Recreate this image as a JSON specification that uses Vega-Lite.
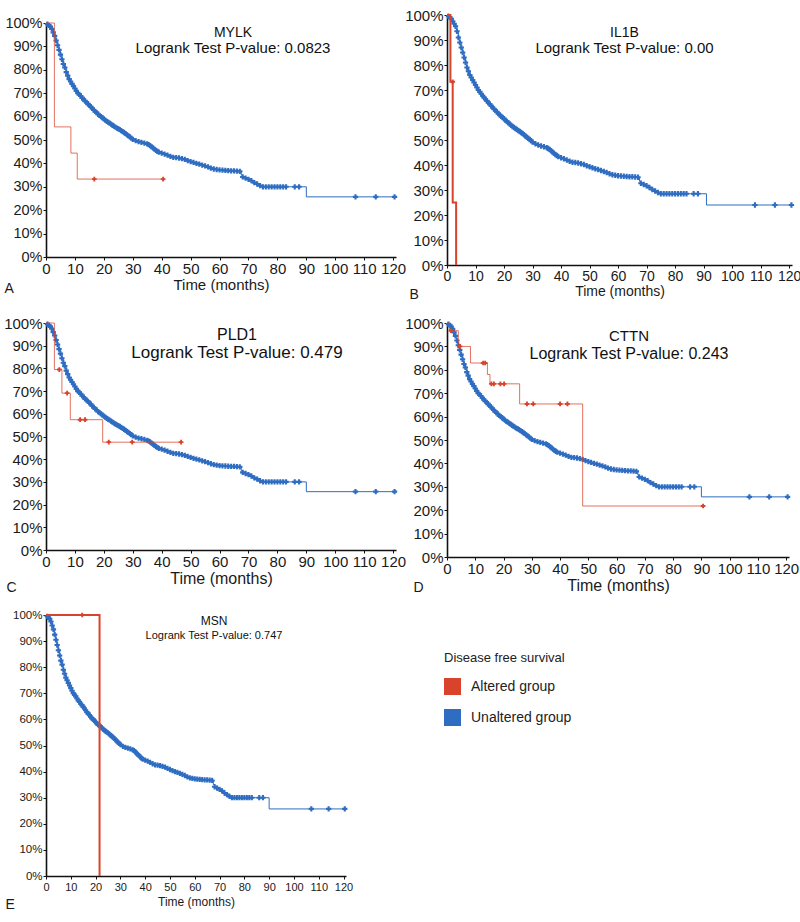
{
  "$schema": "https://vega.github.io/schema/vega-lite/v6.json",
  "background": "white",
  "padding": {"left": 3, "top": 8, "right": 0, "bottom": 0},
  "columns": 2,
  "bounds": "flush",
  "spacing": {"row": 58, "column": 51},
  "center": {"row": true, "column": false},
  "datasets": {
    "unaltered": [
      {"t":0,"s":1,"c":0,"g":"Unaltered group"},{"t":0.5,"s":0.995,"c":1,"g":"Unaltered group"},{"t":1,"s":0.99,"c":1,"g":"Unaltered group"},{"t":1.5,"s":0.985,"c":1,"g":"Unaltered group"},{"t":2,"s":0.975,"c":1,"g":"Unaltered group"},{"t":2.5,"s":0.96,"c":1,"g":"Unaltered group"},{"t":3,"s":0.945,"c":1,"g":"Unaltered group"},{"t":3.5,"s":0.925,"c":1,"g":"Unaltered group"},{"t":4,"s":0.905,"c":1,"g":"Unaltered group"},{"t":4.5,"s":0.885,"c":1,"g":"Unaltered group"},{"t":5,"s":0.865,"c":1,"g":"Unaltered group"},{"t":5.5,"s":0.845,"c":1,"g":"Unaltered group"},{"t":6,"s":0.825,"c":1,"g":"Unaltered group"},{"t":6.5,"s":0.81,"c":1,"g":"Unaltered group"},{"t":7,"s":0.79,"c":1,"g":"Unaltered group"},{"t":7.5,"s":0.775,"c":1,"g":"Unaltered group"},{"t":8,"s":0.76,"c":1,"g":"Unaltered group"},{"t":8.5,"s":0.75,"c":1,"g":"Unaltered group"},{"t":9,"s":0.74,"c":1,"g":"Unaltered group"},{"t":9.5,"s":0.73,"c":1,"g":"Unaltered group"},{"t":10,"s":0.72,"c":1,"g":"Unaltered group"},{"t":10.5,"s":0.71,"c":1,"g":"Unaltered group"},{"t":11,"s":0.7,"c":1,"g":"Unaltered group"},{"t":11.5,"s":0.695,"c":1,"g":"Unaltered group"},{"t":12,"s":0.688,"c":1,"g":"Unaltered group"},{"t":12.5,"s":0.68,"c":1,"g":"Unaltered group"},{"t":13,"s":0.673,"c":1,"g":"Unaltered group"},{"t":13.5,"s":0.667,"c":1,"g":"Unaltered group"},{"t":14,"s":0.66,"c":1,"g":"Unaltered group"},{"t":14.5,"s":0.655,"c":1,"g":"Unaltered group"},{"t":15,"s":0.648,"c":1,"g":"Unaltered group"},{"t":15.5,"s":0.642,"c":1,"g":"Unaltered group"},{"t":16,"s":0.635,"c":1,"g":"Unaltered group"},{"t":16.5,"s":0.628,"c":1,"g":"Unaltered group"},{"t":17,"s":0.622,"c":1,"g":"Unaltered group"},{"t":17.5,"s":0.617,"c":1,"g":"Unaltered group"},{"t":18,"s":0.61,"c":1,"g":"Unaltered group"},{"t":18.5,"s":0.605,"c":1,"g":"Unaltered group"},{"t":19,"s":0.6,"c":1,"g":"Unaltered group"},{"t":19.5,"s":0.595,"c":1,"g":"Unaltered group"},{"t":20,"s":0.59,"c":1,"g":"Unaltered group"},{"t":20.5,"s":0.585,"c":1,"g":"Unaltered group"},{"t":21,"s":0.58,"c":1,"g":"Unaltered group"},{"t":21.5,"s":0.576,"c":1,"g":"Unaltered group"},{"t":22,"s":0.572,"c":1,"g":"Unaltered group"},{"t":22.5,"s":0.568,"c":1,"g":"Unaltered group"},{"t":23,"s":0.563,"c":1,"g":"Unaltered group"},{"t":23.5,"s":0.559,"c":1,"g":"Unaltered group"},{"t":24,"s":0.555,"c":1,"g":"Unaltered group"},{"t":24.5,"s":0.551,"c":1,"g":"Unaltered group"},{"t":25,"s":0.548,"c":1,"g":"Unaltered group"},{"t":25.5,"s":0.544,"c":1,"g":"Unaltered group"},{"t":26,"s":0.54,"c":1,"g":"Unaltered group"},{"t":26.5,"s":0.536,"c":1,"g":"Unaltered group"},{"t":27,"s":0.532,"c":1,"g":"Unaltered group"},{"t":27.5,"s":0.527,"c":1,"g":"Unaltered group"},{"t":28,"s":0.522,"c":1,"g":"Unaltered group"},{"t":28.5,"s":0.518,"c":1,"g":"Unaltered group"},{"t":29,"s":0.513,"c":1,"g":"Unaltered group"},{"t":29.5,"s":0.508,"c":1,"g":"Unaltered group"},{"t":30,"s":0.503,"c":1,"g":"Unaltered group"},{"t":31,"s":0.497,"c":1,"g":"Unaltered group"},{"t":32,"s":0.493,"c":1,"g":"Unaltered group"},{"t":33,"s":0.49,"c":1,"g":"Unaltered group"},{"t":34,"s":0.487,"c":1,"g":"Unaltered group"},{"t":35,"s":0.483,"c":1,"g":"Unaltered group"},{"t":35.5,"s":0.48,"c":1,"g":"Unaltered group"},{"t":36,"s":0.476,"c":1,"g":"Unaltered group"},{"t":36.5,"s":0.471,"c":1,"g":"Unaltered group"},{"t":37,"s":0.466,"c":1,"g":"Unaltered group"},{"t":37.5,"s":0.461,"c":1,"g":"Unaltered group"},{"t":38,"s":0.456,"c":1,"g":"Unaltered group"},{"t":38.5,"s":0.452,"c":1,"g":"Unaltered group"},{"t":39,"s":0.448,"c":1,"g":"Unaltered group"},{"t":40,"s":0.444,"c":1,"g":"Unaltered group"},{"t":41,"s":0.44,"c":1,"g":"Unaltered group"},{"t":42,"s":0.435,"c":1,"g":"Unaltered group"},{"t":43,"s":0.43,"c":1,"g":"Unaltered group"},{"t":44,"s":0.426,"c":1,"g":"Unaltered group"},{"t":45,"s":0.425,"c":1,"g":"Unaltered group"},{"t":46,"s":0.423,"c":1,"g":"Unaltered group"},{"t":47,"s":0.42,"c":1,"g":"Unaltered group"},{"t":48,"s":0.417,"c":1,"g":"Unaltered group"},{"t":49,"s":0.412,"c":1,"g":"Unaltered group"},{"t":50,"s":0.408,"c":1,"g":"Unaltered group"},{"t":51,"s":0.404,"c":1,"g":"Unaltered group"},{"t":52,"s":0.4,"c":1,"g":"Unaltered group"},{"t":53,"s":0.397,"c":1,"g":"Unaltered group"},{"t":54,"s":0.393,"c":1,"g":"Unaltered group"},{"t":55,"s":0.389,"c":1,"g":"Unaltered group"},{"t":56,"s":0.385,"c":1,"g":"Unaltered group"},{"t":57,"s":0.38,"c":1,"g":"Unaltered group"},{"t":58,"s":0.376,"c":1,"g":"Unaltered group"},{"t":59,"s":0.374,"c":1,"g":"Unaltered group"},{"t":60,"s":0.372,"c":1,"g":"Unaltered group"},{"t":61,"s":0.371,"c":1,"g":"Unaltered group"},{"t":62,"s":0.37,"c":1,"g":"Unaltered group"},{"t":63,"s":0.369,"c":1,"g":"Unaltered group"},{"t":64,"s":0.368,"c":1,"g":"Unaltered group"},{"t":65,"s":0.368,"c":1,"g":"Unaltered group"},{"t":66,"s":0.367,"c":1,"g":"Unaltered group"},{"t":67,"s":0.366,"c":1,"g":"Unaltered group"},{"t":67.5,"s":0.35,"c":0,"g":"Unaltered group"},{"t":68,"s":0.342,"c":1,"g":"Unaltered group"},{"t":69,"s":0.337,"c":1,"g":"Unaltered group"},{"t":70,"s":0.332,"c":1,"g":"Unaltered group"},{"t":71,"s":0.326,"c":1,"g":"Unaltered group"},{"t":72,"s":0.318,"c":1,"g":"Unaltered group"},{"t":73,"s":0.312,"c":1,"g":"Unaltered group"},{"t":74,"s":0.305,"c":1,"g":"Unaltered group"},{"t":75,"s":0.3,"c":1,"g":"Unaltered group"},{"t":76,"s":0.3,"c":1,"g":"Unaltered group"},{"t":77,"s":0.3,"c":1,"g":"Unaltered group"},{"t":78,"s":0.3,"c":1,"g":"Unaltered group"},{"t":79,"s":0.3,"c":1,"g":"Unaltered group"},{"t":80,"s":0.3,"c":1,"g":"Unaltered group"},{"t":81,"s":0.3,"c":1,"g":"Unaltered group"},{"t":82,"s":0.3,"c":1,"g":"Unaltered group"},{"t":83,"s":0.3,"c":1,"g":"Unaltered group"},{"t":86,"s":0.3,"c":1,"g":"Unaltered group"},{"t":87.5,"s":0.3,"c":1,"g":"Unaltered group"},{"t":90,"s":0.257,"c":0,"g":"Unaltered group"},{"t":107,"s":0.257,"c":1,"g":"Unaltered group"},{"t":114,"s":0.257,"c":1,"g":"Unaltered group"},{"t":120.5,"s":0.257,"c":1,"g":"Unaltered group"}
    ],
    "unalteredB": [
      {"t":0,"s":1,"c":0,"g":"Unaltered group"},{"t":0.5,"s":0.995,"c":1,"g":"Unaltered group"},{"t":1,"s":0.99,"c":1,"g":"Unaltered group"},{"t":1.5,"s":0.985,"c":1,"g":"Unaltered group"},{"t":2,"s":0.975,"c":1,"g":"Unaltered group"},{"t":2.5,"s":0.965,"c":1,"g":"Unaltered group"},{"t":3,"s":0.955,"c":1,"g":"Unaltered group"},{"t":3.5,"s":0.935,"c":1,"g":"Unaltered group"},{"t":4,"s":0.91,"c":1,"g":"Unaltered group"},{"t":4.5,"s":0.89,"c":1,"g":"Unaltered group"},{"t":5,"s":0.87,"c":1,"g":"Unaltered group"},{"t":5.5,"s":0.85,"c":1,"g":"Unaltered group"},{"t":6,"s":0.83,"c":1,"g":"Unaltered group"},{"t":6.5,"s":0.81,"c":1,"g":"Unaltered group"},{"t":7,"s":0.79,"c":1,"g":"Unaltered group"},{"t":7.5,"s":0.775,"c":1,"g":"Unaltered group"},{"t":8,"s":0.76,"c":1,"g":"Unaltered group"},{"t":8.5,"s":0.75,"c":1,"g":"Unaltered group"},{"t":9,"s":0.74,"c":1,"g":"Unaltered group"},{"t":9.5,"s":0.73,"c":1,"g":"Unaltered group"},{"t":10,"s":0.72,"c":1,"g":"Unaltered group"},{"t":10.5,"s":0.71,"c":1,"g":"Unaltered group"},{"t":11,"s":0.7,"c":1,"g":"Unaltered group"},{"t":11.5,"s":0.693,"c":1,"g":"Unaltered group"},{"t":12,"s":0.685,"c":1,"g":"Unaltered group"},{"t":12.5,"s":0.677,"c":1,"g":"Unaltered group"},{"t":13,"s":0.67,"c":1,"g":"Unaltered group"},{"t":13.5,"s":0.663,"c":1,"g":"Unaltered group"},{"t":14,"s":0.656,"c":1,"g":"Unaltered group"},{"t":14.5,"s":0.65,"c":1,"g":"Unaltered group"},{"t":15,"s":0.643,"c":1,"g":"Unaltered group"},{"t":15.5,"s":0.637,"c":1,"g":"Unaltered group"},{"t":16,"s":0.63,"c":1,"g":"Unaltered group"},{"t":16.5,"s":0.624,"c":1,"g":"Unaltered group"},{"t":17,"s":0.618,"c":1,"g":"Unaltered group"},{"t":17.5,"s":0.612,"c":1,"g":"Unaltered group"},{"t":18,"s":0.606,"c":1,"g":"Unaltered group"},{"t":18.5,"s":0.6,"c":1,"g":"Unaltered group"},{"t":19,"s":0.595,"c":1,"g":"Unaltered group"},{"t":19.5,"s":0.59,"c":1,"g":"Unaltered group"},{"t":20,"s":0.585,"c":1,"g":"Unaltered group"},{"t":20.5,"s":0.579,"c":1,"g":"Unaltered group"},{"t":21,"s":0.574,"c":1,"g":"Unaltered group"},{"t":21.5,"s":0.569,"c":1,"g":"Unaltered group"},{"t":22,"s":0.564,"c":1,"g":"Unaltered group"},{"t":22.5,"s":0.559,"c":1,"g":"Unaltered group"},{"t":23,"s":0.554,"c":1,"g":"Unaltered group"},{"t":23.5,"s":0.55,"c":1,"g":"Unaltered group"},{"t":24,"s":0.546,"c":1,"g":"Unaltered group"},{"t":24.5,"s":0.542,"c":1,"g":"Unaltered group"},{"t":25,"s":0.538,"c":1,"g":"Unaltered group"},{"t":25.5,"s":0.534,"c":1,"g":"Unaltered group"},{"t":26,"s":0.53,"c":1,"g":"Unaltered group"},{"t":26.5,"s":0.526,"c":1,"g":"Unaltered group"},{"t":27,"s":0.521,"c":1,"g":"Unaltered group"},{"t":27.5,"s":0.516,"c":1,"g":"Unaltered group"},{"t":28,"s":0.511,"c":1,"g":"Unaltered group"},{"t":28.5,"s":0.507,"c":1,"g":"Unaltered group"},{"t":29,"s":0.502,"c":1,"g":"Unaltered group"},{"t":29.5,"s":0.497,"c":1,"g":"Unaltered group"},{"t":30,"s":0.492,"c":1,"g":"Unaltered group"},{"t":31,"s":0.485,"c":1,"g":"Unaltered group"},{"t":32,"s":0.48,"c":1,"g":"Unaltered group"},{"t":33,"s":0.476,"c":1,"g":"Unaltered group"},{"t":34,"s":0.473,"c":1,"g":"Unaltered group"},{"t":35,"s":0.469,"c":1,"g":"Unaltered group"},{"t":35.5,"s":0.466,"c":1,"g":"Unaltered group"},{"t":36,"s":0.462,"c":1,"g":"Unaltered group"},{"t":36.5,"s":0.457,"c":1,"g":"Unaltered group"},{"t":37,"s":0.452,"c":1,"g":"Unaltered group"},{"t":37.5,"s":0.447,"c":1,"g":"Unaltered group"},{"t":38,"s":0.442,"c":1,"g":"Unaltered group"},{"t":38.5,"s":0.438,"c":1,"g":"Unaltered group"},{"t":39,"s":0.434,"c":1,"g":"Unaltered group"},{"t":40,"s":0.429,"c":1,"g":"Unaltered group"},{"t":41,"s":0.425,"c":1,"g":"Unaltered group"},{"t":42,"s":0.42,"c":1,"g":"Unaltered group"},{"t":43,"s":0.415,"c":1,"g":"Unaltered group"},{"t":44,"s":0.411,"c":1,"g":"Unaltered group"},{"t":45,"s":0.41,"c":1,"g":"Unaltered group"},{"t":46,"s":0.408,"c":1,"g":"Unaltered group"},{"t":47,"s":0.405,"c":1,"g":"Unaltered group"},{"t":48,"s":0.402,"c":1,"g":"Unaltered group"},{"t":49,"s":0.397,"c":1,"g":"Unaltered group"},{"t":50,"s":0.393,"c":1,"g":"Unaltered group"},{"t":51,"s":0.389,"c":1,"g":"Unaltered group"},{"t":52,"s":0.385,"c":1,"g":"Unaltered group"},{"t":53,"s":0.382,"c":1,"g":"Unaltered group"},{"t":54,"s":0.378,"c":1,"g":"Unaltered group"},{"t":55,"s":0.374,"c":1,"g":"Unaltered group"},{"t":56,"s":0.37,"c":1,"g":"Unaltered group"},{"t":57,"s":0.365,"c":1,"g":"Unaltered group"},{"t":58,"s":0.361,"c":1,"g":"Unaltered group"},{"t":59,"s":0.359,"c":1,"g":"Unaltered group"},{"t":60,"s":0.357,"c":1,"g":"Unaltered group"},{"t":61,"s":0.356,"c":1,"g":"Unaltered group"},{"t":62,"s":0.355,"c":1,"g":"Unaltered group"},{"t":63,"s":0.354,"c":1,"g":"Unaltered group"},{"t":64,"s":0.353,"c":1,"g":"Unaltered group"},{"t":65,"s":0.353,"c":1,"g":"Unaltered group"},{"t":66,"s":0.352,"c":1,"g":"Unaltered group"},{"t":67,"s":0.351,"c":1,"g":"Unaltered group"},{"t":67.5,"s":0.335,"c":0,"g":"Unaltered group"},{"t":68,"s":0.327,"c":1,"g":"Unaltered group"},{"t":69,"s":0.322,"c":1,"g":"Unaltered group"},{"t":70,"s":0.317,"c":1,"g":"Unaltered group"},{"t":71,"s":0.31,"c":1,"g":"Unaltered group"},{"t":72,"s":0.302,"c":1,"g":"Unaltered group"},{"t":73,"s":0.296,"c":1,"g":"Unaltered group"},{"t":74,"s":0.29,"c":1,"g":"Unaltered group"},{"t":75,"s":0.285,"c":1,"g":"Unaltered group"},{"t":76,"s":0.285,"c":1,"g":"Unaltered group"},{"t":77,"s":0.285,"c":1,"g":"Unaltered group"},{"t":78,"s":0.285,"c":1,"g":"Unaltered group"},{"t":79,"s":0.285,"c":1,"g":"Unaltered group"},{"t":80,"s":0.285,"c":1,"g":"Unaltered group"},{"t":81,"s":0.285,"c":1,"g":"Unaltered group"},{"t":82,"s":0.285,"c":1,"g":"Unaltered group"},{"t":83,"s":0.285,"c":1,"g":"Unaltered group"},{"t":84,"s":0.285,"c":1,"g":"Unaltered group"},{"t":86.5,"s":0.285,"c":1,"g":"Unaltered group"},{"t":88,"s":0.285,"c":1,"g":"Unaltered group"},{"t":91,"s":0.24,"c":0,"g":"Unaltered group"},{"t":108,"s":0.24,"c":1,"g":"Unaltered group"},{"t":115,"s":0.24,"c":1,"g":"Unaltered group"},{"t":120.8,"s":0.24,"c":1,"g":"Unaltered group"}
    ],
    "redA": [
      {"t":0,"s":1,"c":0,"g":"Altered group"},{"t":2.9,"s":0.556,"c":0,"g":"Altered group"},{"t":8.6,"s":0.444,"c":0,"g":"Altered group"},{"t":10.8,"s":0.333,"c":0,"g":"Altered group"},{"t":16.7,"s":0.333,"c":1,"g":"Altered group"},{"t":40.5,"s":0.333,"c":1,"g":"Altered group"}
    ],
    "redB": [
      {"t":0,"s":1,"c":0,"g":"Altered group"},{"t":1.2,"s":0.733,"c":0,"g":"Altered group"},{"t":2.0,"s":0.733,"c":1,"g":"Altered group"},{"t":2.0,"s":0.25,"c":0,"g":"Altered group"},{"t":3.2,"s":0,"c":0,"g":"Altered group"}
    ],
    "redC": [
      {"t":0,"s":1,"c":0,"g":"Altered group"},{"t":2.9,"s":0.795,"c":0,"g":"Altered group"},{"t":4.6,"s":0.795,"c":1,"g":"Altered group"},{"t":5.5,"s":0.691,"c":0,"g":"Altered group"},{"t":7.3,"s":0.691,"c":1,"g":"Altered group"},{"t":8.4,"s":0.574,"c":0,"g":"Altered group"},{"t":11.8,"s":0.574,"c":1,"g":"Altered group"},{"t":13.5,"s":0.574,"c":1,"g":"Altered group"},{"t":19.6,"s":0.475,"c":0,"g":"Altered group"},{"t":21.7,"s":0.475,"c":1,"g":"Altered group"},{"t":29.8,"s":0.475,"c":1,"g":"Altered group"},{"t":46.7,"s":0.475,"c":1,"g":"Altered group"}
    ],
    "redD": [
      {"t":0,"s":1,"c":0,"g":"Altered group"},{"t":0.9,"s":0.967,"c":0,"g":"Altered group"},{"t":1.4,"s":0.967,"c":1,"g":"Altered group"},{"t":4.0,"s":0.9,"c":0,"g":"Altered group"},{"t":4.6,"s":0.9,"c":1,"g":"Altered group"},{"t":8.3,"s":0.829,"c":0,"g":"Altered group"},{"t":12.8,"s":0.829,"c":1,"g":"Altered group"},{"t":13.5,"s":0.829,"c":1,"g":"Altered group"},{"t":14.3,"s":0.78,"c":0,"g":"Altered group"},{"t":15.2,"s":0.74,"c":0,"g":"Altered group"},{"t":15.7,"s":0.74,"c":1,"g":"Altered group"},{"t":16.6,"s":0.74,"c":1,"g":"Altered group"},{"t":18.9,"s":0.74,"c":1,"g":"Altered group"},{"t":20.2,"s":0.74,"c":1,"g":"Altered group"},{"t":25.7,"s":0.654,"c":0,"g":"Altered group"},{"t":28.3,"s":0.654,"c":1,"g":"Altered group"},{"t":30.5,"s":0.654,"c":1,"g":"Altered group"},{"t":40.0,"s":0.654,"c":1,"g":"Altered group"},{"t":42.6,"s":0.654,"c":1,"g":"Altered group"},{"t":48.0,"s":0.218,"c":0,"g":"Altered group"},{"t":90.6,"s":0.218,"c":1,"g":"Altered group"}
    ],
    "redE": [
      {"t":0,"s":1,"c":0,"g":"Altered group"},{"t":14.6,"s":1,"c":1,"g":"Altered group"},{"t":21.6,"s":0,"c":0,"g":"Altered group"}
    ]
  },
  "concat": [
    {
      "width": 350, "height": 234,
      "title": {"text": "MYLK", "subtitle": "Logrank Test P-value: 0.0823", "offset": -41, "dx": 12, "fontSize": 14, "subtitleFontSize": 15, "subtitlePadding": 1},
      "encoding": {
        "x": {"field": "t", "type": "quantitative", "scale": {"domain": [0, 121], "nice": false}, "axis": {"values": [0, 10, 20, 30, 40, 50, 60, 70, 80, 90, 100, 110, 120], "title": "Time (months)", "labelFontSize": 15, "titleFontSize": 15}},
        "y": {"field": "s", "type": "quantitative", "scale": {"domain": [0, 1], "nice": false}, "axis": {"values": [0, 0.1, 0.2, 0.3, 0.4, 0.5, 0.6, 0.7, 0.8, 0.9, 1], "title": "A", "titleX": -42, "titleY": 272, "labelFontSize": 14.5}},
        "color": {"field": "g", "type": "nominal", "scale": {"domain": ["Altered group", "Unaltered group"], "range": ["#d9432b", "#2e6dc1"]},
          "legend": {"title": "Disease free survival", "orient": "none", "legendX": 398, "legendY": 637, "symbolType": "square", "symbolSize": 289,
            "encode": {"symbols": {"update": {"fill": {"scale": "color", "field": "value"}, "stroke": {"value": "transparent"}, "strokeWidth": {"value": 0}, "opacity": {"value": 1}, "shape": {"value": "square"}, "size": {"value": 289}}}}}}
      },
      "layer": [
        {"data": {"name": "unaltered"}, "mark": {"type": "line", "interpolate": "step-after", "strokeWidth": 1}},
        {"data": {"name": "unaltered"}, "transform": [{"filter": "datum.c == 1"}], "mark": {"type": "point", "shape": "cross", "filled": true, "size": 28, "opacity": 1}},
        {"data": {"name": "redA"}, "mark": {"type": "line", "interpolate": "step-after", "strokeWidth": 1, "opacity": 0.75}},
        {"data": {"name": "redA"}, "transform": [{"filter": "datum.c == 1"}], "mark": {"type": "point", "shape": "cross", "filled": true, "size": 22, "opacity": 1}}
      ]
    },
    {
      "width": 345, "height": 250,
      "title": {"text": "IL1B", "subtitle": "Logrank Test P-value: 0.00", "offset": -48, "dx": 5, "fontSize": 14, "subtitleFontSize": 15, "subtitlePadding": 1},
      "encoding": {
        "x": {"field": "t", "type": "quantitative", "scale": {"domain": [0, 121], "nice": false}, "axis": {"values": [0, 10, 20, 30, 40, 50, 60, 70, 80, 90, 100, 110, 120], "title": "Time (months)", "labelFontSize": 14, "titleFontSize": 14}},
        "y": {"field": "s", "type": "quantitative", "scale": {"domain": [0, 1], "nice": false}, "axis": {"values": [0, 0.1, 0.2, 0.3, 0.4, 0.5, 0.6, 0.7, 0.8, 0.9, 1], "title": "B", "titleX": -38, "titleY": 286, "labelFontSize": 15}},
        "color": {"field": "g", "type": "nominal"}
      },
      "layer": [
        {"data": {"name": "unalteredB"}, "mark": {"type": "line", "interpolate": "step-after", "strokeWidth": 1}},
        {"data": {"name": "unalteredB"}, "transform": [{"filter": "datum.c == 1"}], "mark": {"type": "point", "shape": "cross", "filled": true, "size": 28, "opacity": 1}},
        {"data": {"name": "redB"}, "mark": {"type": "line", "interpolate": "step-after", "strokeWidth": 2}},
        {"data": {"name": "redB"}, "transform": [{"filter": "datum.c == 1"}], "mark": {"type": "point", "shape": "cross", "filled": true, "size": 22, "opacity": 1}}
      ]
    },
    {
      "width": 350, "height": 227,
      "title": {"text": "PLD1", "subtitle": "Logrank Test P-value: 0.479", "offset": -45, "dx": 16, "fontSize": 16, "subtitleFontSize": 17},
      "encoding": {
        "x": {"field": "t", "type": "quantitative", "scale": {"domain": [0, 121], "nice": false}, "axis": {"values": [0, 10, 20, 30, 40, 50, 60, 70, 80, 90, 100, 110, 120], "title": "Time (months)", "labelFontSize": 15, "titleFontSize": 16}},
        "y": {"field": "s", "type": "quantitative", "scale": {"domain": [0, 1], "nice": false}, "axis": {"values": [0, 0.1, 0.2, 0.3, 0.4, 0.5, 0.6, 0.7, 0.8, 0.9, 1], "title": "C", "titleX": -40, "titleY": 271, "labelFontSize": 15}},
        "color": {"field": "g", "type": "nominal"}
      },
      "layer": [
        {"data": {"name": "unaltered"}, "mark": {"type": "line", "interpolate": "step-after", "strokeWidth": 1}},
        {"data": {"name": "unaltered"}, "transform": [{"filter": "datum.c == 1"}], "mark": {"type": "point", "shape": "cross", "filled": true, "size": 28, "opacity": 1}},
        {"data": {"name": "redC"}, "mark": {"type": "line", "interpolate": "step-after", "strokeWidth": 1, "opacity": 0.75}},
        {"data": {"name": "redC"}, "transform": [{"filter": "datum.c == 1"}], "mark": {"type": "point", "shape": "cross", "filled": true, "size": 22, "opacity": 1}}
      ]
    },
    {
      "width": 342, "height": 234,
      "title": {"text": "CTTN", "subtitle": "Logrank Test P-value: 0.243", "offset": -46, "dx": 11, "fontSize": 15, "subtitleFontSize": 16},
      "encoding": {
        "x": {"field": "t", "type": "quantitative", "scale": {"domain": [0, 121], "nice": false}, "axis": {"values": [0, 10, 20, 30, 40, 50, 60, 70, 80, 90, 100, 110, 120], "title": "Time (months)", "labelFontSize": 15, "titleFontSize": 16}},
        "y": {"field": "s", "type": "quantitative", "scale": {"domain": [0, 1], "nice": false}, "axis": {"values": [0, 0.1, 0.2, 0.3, 0.4, 0.5, 0.6, 0.7, 0.8, 0.9, 1], "title": "D", "titleX": -34, "titleY": 271, "labelFontSize": 15}},
        "color": {"field": "g", "type": "nominal"}
      },
      "layer": [
        {"data": {"name": "unaltered"}, "mark": {"type": "line", "interpolate": "step-after", "strokeWidth": 1}},
        {"data": {"name": "unaltered"}, "transform": [{"filter": "datum.c == 1"}], "mark": {"type": "point", "shape": "cross", "filled": true, "size": 28, "opacity": 1}},
        {"data": {"name": "redD"}, "mark": {"type": "line", "interpolate": "step-after", "strokeWidth": 1, "opacity": 0.75}},
        {"data": {"name": "redD"}, "transform": [{"filter": "datum.c == 1"}], "mark": {"type": "point", "shape": "cross", "filled": true, "size": 22, "opacity": 1}}
      ]
    },
    {
      "width": 300, "height": 261,
      "title": {"text": "MSN", "subtitle": "Logrank Test P-value: 0.747", "offset": -33, "dx": 18, "fontSize": 12, "subtitleFontSize": 11},
      "encoding": {
        "x": {"field": "t", "type": "quantitative", "scale": {"domain": [0, 121], "nice": false}, "axis": {"values": [0, 10, 20, 30, 40, 50, 60, 70, 80, 90, 100, 110, 120], "title": "Time (months)", "labelFontSize": 11, "titleFontSize": 12, "titlePadding": 4, "labelPadding": 2}},
        "y": {"field": "s", "type": "quantitative", "scale": {"domain": [0, 1], "nice": false}, "axis": {"values": [0, 0.1, 0.2, 0.3, 0.4, 0.5, 0.6, 0.7, 0.8, 0.9, 1], "title": "E", "titleX": -41, "titleY": 296, "labelFontSize": 11.5}},
        "color": {"field": "g", "type": "nominal"}
      },
      "layer": [
        {"data": {"name": "unaltered"}, "mark": {"type": "line", "interpolate": "step-after", "strokeWidth": 1}},
        {"data": {"name": "unaltered"}, "transform": [{"filter": "datum.c == 1"}], "mark": {"type": "point", "shape": "cross", "filled": true, "size": 28, "opacity": 1}},
        {"data": {"name": "redE"}, "mark": {"type": "line", "interpolate": "step-after", "strokeWidth": 2}},
        {"data": {"name": "redE"}, "transform": [{"filter": "datum.c == 1"}], "mark": {"type": "point", "shape": "cross", "filled": true, "size": 22, "opacity": 1}}
      ]
    }
  ],
  "config": {
    "view": {"stroke": null},
    "font": "Liberation Sans",
    "title": {"anchor": "middle", "frame": "group", "fontWeight": "normal", "color": "#111", "subtitleColor": "#111", "font": "Liberation Sans", "subtitleFont": "Liberation Sans", "subtitlePadding": 2},
    "axis": {"grid": false, "domainColor": "#111", "domainWidth": 1.6, "tickColor": "#111", "tickSize": 3, "tickWidth": 1, "labelColor": "#1a1a1a", "labelFont": "Liberation Sans", "labelPadding": 1, "titleColor": "#1a1a1a", "titleFont": "Liberation Sans", "titleFontWeight": "normal", "labelOverlap": false, "labelFlush": false},
    "axisX": {"titlePadding": 1},
    "axisY": {"format": ".0%", "titleAngle": 0, "titleAlign": "left", "titleBaseline": "bottom", "titleFontSize": 14},
    "legend": {"titleFontSize": 13, "titleFontWeight": "normal", "titleColor": "#222", "titleFont": "Liberation Sans", "labelFontSize": 14, "labelFont": "Liberation Sans", "labelColor": "#222", "rowPadding": 14, "titlePadding": 13, "labelOffset": 10}
  }
}
